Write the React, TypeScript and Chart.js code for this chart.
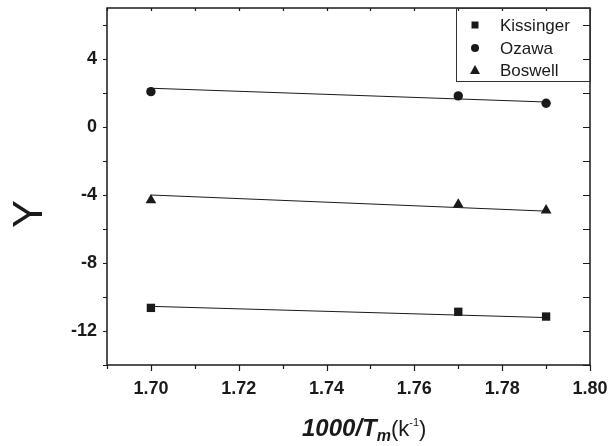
import React, { useEffect, useRef } from "react";
import { Chart, registerables } from "chart.js";

Chart.register(...registerables);

const X_VALUES = [1.7, 1.77, 1.79];
const FIT_X = [1.7, 1.79];

const KISSINGER = [-10.64, -10.87, -11.15];
const OZAWA = [2.08, 1.83, 1.4];
const BOSWELL = [-4.31, -4.56, -4.9];

const KISSINGER_FIT = [-10.55, -11.21];
const OZAWA_FIT = [2.28, 1.47];
const BOSWELL_FIT = [-4.0, -4.95];

const SERIES_NAMES = ["Kissinger", "Ozawa", "Boswell"];
const SERIES_STYLES = ["rect", "circle", "triangle"];

const X_TICK_LABELS = ["1.70", "1.72", "1.74", "1.76", "1.78", "1.80"];
const X_MINOR_TICKS = [1.69, 1.7, 1.71, 1.72, 1.73, 1.74, 1.75, 1.76, 1.77, 1.78, 1.79, 1.8];
const Y_TICK_LABELS = ["-12", "-8", "-4", "0", "4"];
const Y_MINOR_TICKS = [-14, -12, -10, -8, -6, -4, -2, 0, 2, 4, 6];

const X_MIN = 1.69;
const X_MAX = 1.8;
const Y_MIN = -14;
const Y_MAX = 7;

const INK = "#1a1a1a";
const FONT = "'Liberation Sans', Arial, sans-serif";

const pts = (xs: number[], ys: number[]) => xs.map((x, i) => ({ x, y: ys[i] }));

const zeroPad = (s: any) => {
  s.paddingLeft = 0;
  s.paddingRight = 0;
  s.paddingTop = 0;
  s.paddingBottom = 0;
};

const decorPlugin = {
  id: "decor",
  afterDraw(chart: any) {
    const { ctx, chartArea: a, scales } = chart;
    const xs = scales.x;
    const ys = scales.y;
    ctx.save();
    ctx.strokeStyle = INK;
    ctx.fillStyle = INK;

    // frame
    ctx.lineWidth = 1.5;
    ctx.strokeRect(a.left, a.top, a.right - a.left, a.bottom - a.top);

    // ticks
    ctx.lineWidth = 1.2;
    ctx.beginPath();
    X_MINOR_TICKS.forEach((v) => {
      const px = Math.round(xs.getPixelForValue(v)) + 0.5;
      const major = X_TICK_LABELS.some((l) => Math.abs(parseFloat(l) - v) < 1e-6);
      ctx.moveTo(px, a.bottom);
      ctx.lineTo(px, a.bottom + (major ? 6 : 4));
      ctx.moveTo(px, a.top);
      ctx.lineTo(px, a.top + 3);
    });
    Y_MINOR_TICKS.forEach((v) => {
      const py = Math.round(ys.getPixelForValue(v)) + 0.5;
      ctx.moveTo(a.left, py);
      ctx.lineTo(a.left - 4, py);
      ctx.moveTo(a.right, py);
      ctx.lineTo(a.right - 7, py);
    });
    ctx.stroke();

    // Y title
    ctx.save();
    ctx.translate(42, 214);
    ctx.rotate(-Math.PI / 2);
    ctx.font = `42px ${FONT}`;
    ctx.textAlign = "center";
    ctx.textBaseline = "alphabetic";
    ctx.fillText("Y", 0, 0);
    ctx.restore();

    // X title with mixed styles
    const runs = [
      { t: "1000/T", f: `italic bold 24px ${FONT}`, dy: 0 },
      { t: "m", f: `italic bold 16px ${FONT}`, dy: 5 },
      { t: "(k", f: `22px ${FONT}`, dy: 0 },
      { t: "-1", f: `11px ${FONT}`, dy: -10 },
      { t: ")", f: `22px ${FONT}`, dy: 0 },
    ];
    ctx.textAlign = "left";
    ctx.textBaseline = "alphabetic";
    let x = 302;
    const base = 436;
    runs.forEach((r) => {
      ctx.font = r.f;
      ctx.fillText(r.t, x, base + r.dy);
      x += ctx.measureText(r.t).width;
    });

    // legend
    const lx = 456, ly = a.top, lw = a.right - 456, lh = 73;
    ctx.lineWidth = 1;
    ctx.strokeStyle = "#333";
    ctx.strokeRect(lx + 0.5, ly + 0.5, lw, lh);
    const rowsY = [25, 48, 70];
    ctx.font = `17px ${FONT}`;
    ctx.textBaseline = "middle";
    SERIES_NAMES.forEach((name, i) => {
      const cx = 475, cy = rowsY[i];
      ctx.beginPath();
      if (SERIES_STYLES[i] === "rect") {
        ctx.rect(cx - 3.5, cy - 3.5, 7, 7);
      } else if (SERIES_STYLES[i] === "circle") {
        ctx.arc(cx, cy, 4, 0, Math.PI * 2);
      } else {
        ctx.moveTo(cx, cy - 5);
        ctx.lineTo(cx + 5, cy + 4);
        ctx.lineTo(cx - 5, cy + 4);
        ctx.closePath();
      }
      ctx.fill();
      ctx.fillText(name, 500, cy + 1);
    });

    ctx.restore();
  },
};

export default function App() {
  const ref = useRef<HTMLCanvasElement | null>(null);

  useEffect(() => {
    if (!ref.current) return;
    const lineDs = (ys: number[]) => ({
      data: pts(FIT_X, ys),
      showLine: true,
      borderColor: INK,
      borderWidth: 1,
      pointRadius: 0,
      order: 2,
    });
    const markDs = (ys: number[], style: string, r: number) => ({
      data: pts(X_VALUES, ys),
      showLine: false,
      pointStyle: style,
      pointRadius: r,
      pointBackgroundColor: INK,
      pointBorderColor: INK,
      pointBorderWidth: 0,
      order: 1,
    });

    const chart = new Chart(ref.current, {
      type: "scatter",
      data: {
        datasets: [
          lineDs(KISSINGER_FIT),
          lineDs(OZAWA_FIT),
          lineDs(BOSWELL_FIT),
          markDs(KISSINGER, "rect", 5.9),
          markDs(OZAWA, "circle", 4.7),
          markDs(BOSWELL, "triangle", 6.2),
        ] as any,
      },
      options: {
        responsive: false,
        animation: false,
        layout: { padding: { top: 8, right: 21, left: 0, bottom: 0 } },
        plugins: { legend: { display: false }, tooltip: { enabled: false } },
        scales: {
          x: {
            type: "linear",
            min: X_MIN,
            max: X_MAX,
            afterFit: (s: any) => {
              s.height = 81;
              zeroPad(s);
            },
            afterBuildTicks: (s: any) => {
              s.ticks = X_TICK_LABELS.map((l) => ({ value: parseFloat(l) }));
            },
            ticks: {
              callback: (v: any) => X_TICK_LABELS.find((l) => Math.abs(parseFloat(l) - v) < 1e-6) ?? "",
              font: { family: FONT, size: 18, weight: "bold" },
              color: INK,
              padding: 13,
              maxRotation: 0,
              autoSkip: false,
            },
            grid: { display: false, drawTicks: false },
            border: { display: false },
          },
          y: {
            type: "linear",
            min: Y_MIN,
            max: Y_MAX,
            afterFit: (s: any) => {
              s.width = 107;
              zeroPad(s);
            },
            afterBuildTicks: (s: any) => {
              s.ticks = Y_TICK_LABELS.map((l) => ({ value: parseFloat(l) }));
            },
            ticks: {
              callback: (v: any) => Y_TICK_LABELS.find((l) => parseFloat(l) === v) ?? "",
              font: { family: FONT, size: 18, weight: "bold" },
              color: INK,
              padding: 10,
              autoSkip: false,
            },
            grid: { display: false, drawTicks: false },
            border: { display: false },
          },
        },
      } as any,
      plugins: [decorPlugin],
    });
    return () => chart.destroy();
  }, []);

  return (
    <div style={{ position: "fixed", left: 0, top: 0, width: 611, height: 446, background: "#fff" }}>
      <canvas ref={ref} width={611} height={446} style={{ display: "block" }} />
    </div>
  );
}
